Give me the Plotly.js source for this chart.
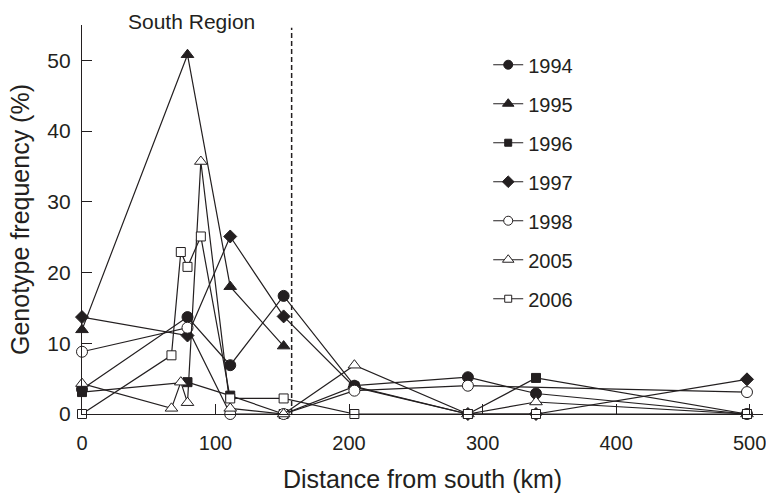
<!DOCTYPE html>
<html>
<head>
<meta charset="utf-8">
<script src="https://cdn.plot.ly/plotly-3.0.1.min.js"></script>
<style>html,body{margin:0;padding:0;background:#fff;}#chart{width:766px;height:493px;}</style>
</head>
<body>
<div id="chart"></div>
<script>
// Data
const years = ["1994", "1995", "1996", "1997", "1998", "2005", "2006"];

const x1994 = [0, 79, 111, 151, 204, 289, 340, 498];
const y1994 = [3.5, 13.7, 6.9, 16.7, 4.0, 5.2, 2.9, 0];

const x1995 = [0, 79, 111, 151];
const y1995 = [11.9, 50.8, 18.0, 9.6];

const x1996 = [0, 79, 111, 151, 204, 289, 340, 498];
const y1996 = [3.1, 4.5, 2.6, 0, 3.9, 0, 5.1, 0];

const x1997 = [0, 79, 111, 151, 204, 289, 340, 498];
const y1997 = [13.7, 11.1, 25.1, 13.8, 3.8, 0, 0, 4.9];

const x1998 = [0, 79, 111, 151, 204, 289, 498];
const y1998 = [8.8, 12.2, 0, 0, 3.3, 4.0, 3.1];

const x2005 = [0, 67, 74, 79, 89, 111, 151, 204, 289, 340, 498];
const y2005 = [4.3, 0.8, 4.5, 1.6, 35.7, 0.8, 0, 6.9, 0, 1.7, 0];

const x2006 = [0, 67, 74, 79, 89, 111, 151, 204, 289, 340, 498];
const y2006 = [0, 8.3, 22.9, 20.8, 25.1, 2.2, 2.2, 0, 0, 0, 0];

const southBoundary = 157;
const xTicks = [0, 100, 200, 300, 400, 500];
const yTicks = [0, 10, 20, 30, 40, 50];

const ink = "#231f20";
const FONT = "Liberation Sans, Arial, Helvetica, sans-serif";

const series = [
  {name: years[0], x: x1994, y: y1994, symbol: "circle", fill: ink, size: 11, lsize: 9},
  {name: years[1], x: x1995, y: y1995, symbol: "triangle-up", fill: ink, size: 11, lsize: 10},
  {name: years[2], x: x1996, y: y1996, symbol: "square", fill: ink, size: 9, lsize: 7},
  {name: years[3], x: x1997, y: y1997, symbol: "diamond", fill: ink, size: 10, lsize: 9},
  {name: years[4], x: x1998, y: y1998, symbol: "circle", fill: "#ffffff", size: 11, lsize: 9},
  {name: years[5], x: x2005, y: y2005, symbol: "triangle-up", fill: "#ffffff", size: 11, lsize: 10},
  {name: years[6], x: x2006, y: y2006, symbol: "square", fill: "#ffffff", size: 9, lsize: 7}
];

const traces = [];
series.forEach((s, i) => {
  traces.push({
    type: "scatter",
    mode: "lines+markers",
    name: s.name,
    x: s.x,
    y: s.y,
    showlegend: false,
    cliponaxis: false,
    line: {color: ink, width: 1.2},
    marker: {symbol: s.symbol, size: s.size, color: s.fill, line: {color: ink, width: 1}}
  });
});
// legend entries (same styles, smaller legend symbols)
series.forEach((s, i) => {
  traces.push({
    type: "scatter",
    mode: "lines+markers",
    name: s.name,
    x: [null],
    y: [null],
    legendgroup: "g" + i,
    showlegend: true,
    line: {color: ink, width: 1.2},
    marker: {symbol: s.symbol, size: s.lsize, color: s.fill, line: {color: ink, width: 1}}
  });
});

const layout = {
  width: 766,
  height: 493,
  margin: {l: 82, r: 3, t: 25, b: 79},
  paper_bgcolor: "#ffffff",
  plot_bgcolor: "#ffffff",
  font: {family: FONT, color: ink, size: 20},
  showlegend: true,
  legend: {
    x: 0.5965, y: 0.948, xanchor: "left", yanchor: "top",
    bgcolor: "rgba(0,0,0,0)", borderwidth: 0,
    font: {family: FONT, size: 20, color: ink},
    tracegroupgap: 10,
    itemwidth: 30,
    itemsizing: "trace"
  },
  xaxis: {
    range: [0, 510],
    tickvals: xTicks,
    ticktext: xTicks.map(String),
    ticks: "inside", ticklen: 10, tickwidth: 1, tickcolor: ink,
    showline: true, linecolor: ink, linewidth: 1.2,
    showgrid: false, zeroline: false,
    ticklabelstandoff: 11,
    ticklabeloverflow: "allow",
    tickfont: {family: FONT, size: 20, color: ink},
    title: {text: "Distance from south (km)", font: {family: FONT, size: 25, color: ink}, standoff: 18}
  },
  yaxis: {
    range: [0, 55],
    tickvals: yTicks,
    ticktext: yTicks.map(String),
    ticks: "inside", ticklen: 10, tickwidth: 1, tickcolor: ink,
    showline: true, linecolor: ink, linewidth: 1.2,
    showgrid: false, zeroline: false,
    ticklabelstandoff: 6,
    ticklabeloverflow: "allow",
    tickfont: {family: FONT, size: 21, color: ink},
    title: {text: "Genotype frequency (%)", font: {family: FONT, size: 25, color: ink}, standoff: 10}
  },
  shapes: [{
    type: "line", xref: "x", yref: "y",
    x0: southBoundary, x1: southBoundary, y0: 0, y1: 54.6,
    line: {color: ink, width: 1.5, dash: "5px,3px"}
  }],
  annotations: [{
    text: "South Region", xref: "x", yref: "paper",
    x: 82, y: 1.008, xanchor: "center", yanchor: "middle",
    showarrow: false, font: {family: FONT, size: 21, color: ink}
  }]
};

Plotly.newPlot("chart", traces, layout, {displayModeBar: false, staticPlot: true});
</script>
</body>
</html>
